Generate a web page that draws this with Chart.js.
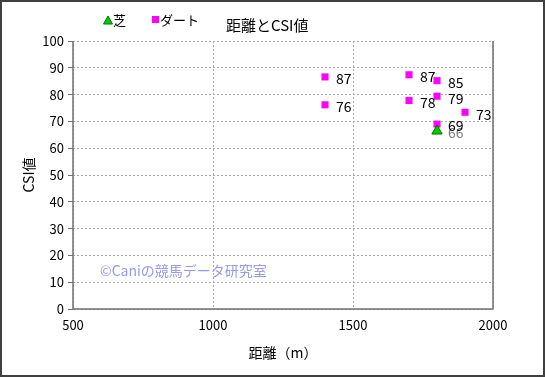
<!DOCTYPE html>
<html><head><meta charset="utf-8">
<script src="https://cdn.jsdelivr.net/npm/chart.js@4"></script>
<style>html,body{margin:0;padding:0;background:#fff}#c{display:block}</style>
</head><body>
<div style="width:545px;height:377px"><canvas id="c" width="545" height="377"></canvas></div>
<script>
const turfDist = [1800];
const turfCSI = [66.4];
const dirtDist = [1400, 1400, 1700, 1700, 1800, 1800, 1900, 1800];
const dirtCSI = [86.6, 76.2, 87.4, 77.8, 85.2, 79.4, 73.4, 69.0];
const xTicks = [500, 1000, 1500, 2000];
const yTicks = [0, 10, 20, 30, 40, 50, 60, 70, 80, 90, 100];
const titleText = '距離とCSI値';
const xTitle = '距離（m）';
const yTitle = 'CSI値';
const seriesNames = ['芝', 'ダート'];
const watermark = '©Caniの競馬データ研究室';

const FONT = '"Noto Sans CJK JP", "DejaVu Sans", sans-serif';

const decor = {
  id: 'decor',
  afterDraw(chart) {
    const ctx = chart.ctx, a = chart.chartArea;
    ctx.save();
    ctx.strokeStyle = '#707070'; ctx.lineWidth = 1.5;
    ctx.beginPath();
    ctx.moveTo(a.left, a.top); ctx.lineTo(a.left, a.bottom); ctx.lineTo(a.right, a.bottom); ctx.lineTo(a.right, a.top);
    ctx.stroke();
    ctx.strokeStyle = '#404040'; ctx.lineWidth = 2;
    ctx.strokeRect(1, 1, 543, 375);
    ctx.font = '14px ' + FONT; ctx.textBaseline = 'middle'; ctx.textAlign = 'left';
    chart.data.datasets.forEach((ds, di) => {
      const meta = chart.getDatasetMeta(di);
      meta.data.forEach((pt, i) => {
        ctx.fillStyle = di === 0 ? '#808080' : '#000';
        ctx.fillText(Math.round(ds.data[i].y).toString(), pt.x + 11, pt.y + 2);
      });
    });
    ctx.font = '14px ' + FONT; ctx.fillStyle = '#9999ee';
    ctx.fillText(watermark, 100, 271);
    ctx.fillStyle = '#00cc00'; ctx.strokeStyle = '#007700'; ctx.lineWidth = 1;
    ctx.beginPath(); ctx.moveTo(108, 16); ctx.lineTo(112.5, 24); ctx.lineTo(103.5, 24); ctx.closePath(); ctx.fill(); ctx.stroke();
    ctx.fillStyle = '#000'; ctx.font = '13px ' + FONT;
    ctx.fillText(seriesNames[0], 113, 20);
    ctx.fillStyle = '#ff00ff'; ctx.fillRect(152, 16, 7, 7);
    ctx.fillStyle = '#000';
    ctx.fillText(seriesNames[1], 160, 20);
    ctx.font = '15px ' + FONT;
    ctx.fillText(titleText, 226, 25);
    ctx.restore();
  }
};

new Chart(document.getElementById('c'), {
  type: 'scatter',
  data: {
    datasets: [
      { label: seriesNames[0], data: turfDist.map((x, i) => ({x, y: turfCSI[i]})),
        pointStyle: 'triangle', radius: 6, backgroundColor: '#00cc00', borderColor: '#007700', borderWidth: 1 },
      { label: seriesNames[1], data: dirtDist.map((x, i) => ({x, y: dirtCSI[i]})),
        pointStyle: 'rect', radius: 5, backgroundColor: '#ff00ff', borderColor: '#ff00ff', borderWidth: 0 }
    ]
  },
  options: {
    responsive: false, animation: false, devicePixelRatio: 1,
    layout: { padding: { top: 41, right: 52, left: 0, bottom: 0 } },
    plugins: { legend: { display: false }, title: { display: false }, tooltip: { enabled: false } },
    scales: {
      x: {
        type: 'linear', min: 500, max: 2000,
        afterBuildTicks: s => { s.ticks = xTicks.map(v => ({value: v})); },
        afterFit: s => { s.height = 68; },
        grid: { color: '#a8a8a8', lineWidth: 1, drawTicks: false, tickLength: 0 },
        border: { display: false, dash: [2, 2] },
        ticks: { color: '#000', font: { size: 13, family: FONT }, padding: 8, maxRotation: 0, callback: v => String(v) },
        title: { display: true, text: xTitle, color: '#000', font: { size: 14, family: FONT }, padding: { top: 4, bottom: 16 } }
      },
      y: {
        type: 'linear', min: 0, max: 100,
        afterBuildTicks: s => { s.ticks = yTicks.map(v => ({value: v})); },
        afterFit: s => { s.width = 73; },
        grid: { color: '#a8a8a8', lineWidth: 1, drawTicks: true, tickLength: 5, tickColor: '#707070' },
        border: { display: false, dash: [2, 2] },
        ticks: { color: '#000', font: { size: 13, family: FONT }, padding: 4, callback: v => String(v) },
        title: { display: true, text: yTitle, color: '#000', font: { size: 14, family: FONT }, padding: { top: 20, bottom: 4 } }
      }
    }
  },
  plugins: [decor]
});
</script>
</body></html>
